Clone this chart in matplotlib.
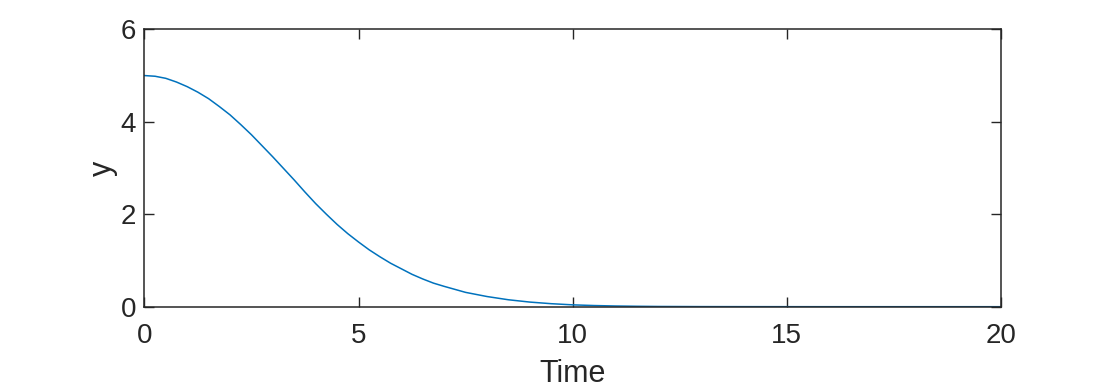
import numpy as np
import matplotlib.pyplot as plt

# Values
t = [0, 0.25, 0.5, 0.75, 1, 1.25, 1.5, 1.75, 2, 2.25, 2.5, 2.75, 3, 3.25, 3.5, 3.75,
     4, 4.25, 4.5, 4.75, 5, 5.25, 5.5, 5.75, 6, 6.25, 6.5, 6.75, 7, 7.5, 8, 8.5, 9, 9.5,
     10, 10.5, 11, 11.5, 12, 13, 14, 16, 18, 20]
y = [5.00, 4.985, 4.94, 4.86, 4.76, 4.64, 4.50, 4.33, 4.15, 3.94, 3.72, 3.48, 3.24,
     2.99, 2.74, 2.48, 2.23, 2.00, 1.78, 1.58, 1.40, 1.23, 1.08, 0.94, 0.82, 0.70,
     0.60, 0.51, 0.44, 0.31, 0.22, 0.15, 0.10, 0.065, 0.04, 0.025, 0.015, 0.009,
     0.005, 0.002, 0.001, 0, 0, 0]

xticks = [0, 5, 10, 15, 20]
yticks = [0, 2, 4, 6]

plt.rcParams['font.family'] = ['Liberation Sans', 'DejaVu Sans']
dark = '#262626'

fig = plt.figure(figsize=(11.07, 3.91), dpi=100)
ax = fig.add_axes([0.1304, 0.2156, 0.7738, 0.7094])

ax.plot(t, y, color='#0072BD', linewidth=1.1)

ax.set_xlim(0, 20)
ax.set_ylim(0, 6)
ax.set_xticks(xticks)
ax.set_yticks(yticks)
ax.tick_params(direction='in', length=7, width=1, colors=dark, labelsize=20,
               top=True, right=True)
ax.tick_params(axis='x', pad=12)
ax.tick_params(axis='y', pad=6)
for s in ax.spines.values():
    s.set_color(dark)
    s.set_linewidth(1.1)

ax.set_xlabel('Time', fontsize=22, color=dark, labelpad=7)
ax.set_ylabel('y', fontsize=22, color=dark, labelpad=2)

fig.savefig('out.png', dpi=100)
